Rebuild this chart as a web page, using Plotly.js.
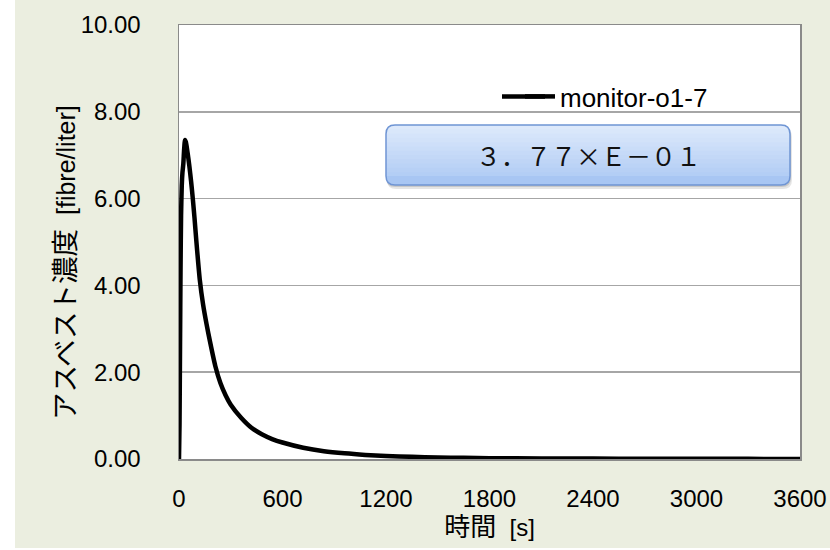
<!DOCTYPE html>
<html>
<head>
<meta charset="utf-8">
<script src="https://cdn.plot.ly/plotly-3.0.1.min.js"></script>
<style>
html,body{margin:0;padding:0;background:#ffffff;}
#chart{position:absolute;left:15px;top:0;width:815px;height:548px;}
</style>
</head>
<body>
<div id="chart"></div>
<script>
// time [s]
const timeSec = [0, 3, 6, 9, 12, 16, 20, 25, 30, 35, 40, 50, 60, 70, 80, 90, 100, 120, 140, 160, 180, 210, 240, 270, 300, 360, 420, 480, 540, 600, 720, 840, 960, 1080, 1200, 1350, 1500, 1650, 1800, 2100, 2400, 2700, 3000, 3300, 3600];
// concentration [fibre/liter]
const concentration = [0, 0.8, 2.6, 4.4, 5.6, 6.3, 6.6, 6.8, 7.15, 7.35, 7.3, 7.05, 6.75, 6.4, 6.0, 5.55, 5.05, 4.15, 3.55, 3.1, 2.7, 2.15, 1.75, 1.47, 1.25, 0.95, 0.72, 0.57, 0.46, 0.38, 0.26, 0.18, 0.13, 0.095, 0.07, 0.05, 0.035, 0.026, 0.02, 0.013, 0.009, 0.006, 0.004, 0.003, 0.002];
const seriesName = 'monitor-o1-7';
const xTicks = [0, 600, 1200, 1800, 2400, 3000, 3600];
const yTicks = [0, 2, 4, 6, 8, 10];
const boxLabel = '３．７７×Ｅ－０１';
const xTitleJa = '時間', xTitleUnit = '[s]';
const yTitleJa = 'アスベスト濃度', yTitleUnit = '[fibre/liter]';

const W = 815, H = 548;
const M = {l: 164, r: 30, t: 25, b: 89};
const PW = W - M.l - M.r, PH = H - M.t - M.b;
function px(x){ return (x - 15 - M.l) / PW; }
function py(y){ return (H - M.b - y) / PH; }

function roundRect(x0, y0, x1, y1, r, topOnly){
  const X = v => px(v).toFixed(5), Y = v => py(v).toFixed(5);
  let p = 'M' + X(x0 + r) + ',' + Y(y0) + ' L' + X(x1 - r) + ',' + Y(y0) +
    ' Q' + X(x1) + ',' + Y(y0) + ' ' + X(x1) + ',' + Y(y0 + r);
  if (topOnly) {
    p += ' L' + X(x1) + ',' + Y(y1) + ' L' + X(x0) + ',' + Y(y1);
  } else {
    p += ' L' + X(x1) + ',' + Y(y1 - r) + ' Q' + X(x1) + ',' + Y(y1) + ' ' + X(x1 - r) + ',' + Y(y1) +
      ' L' + X(x0 + r) + ',' + Y(y1) + ' Q' + X(x0) + ',' + Y(y1) + ' ' + X(x0) + ',' + Y(y1 - r);
  }
  p += ' L' + X(x0) + ',' + Y(y0 + r) + ' Q' + X(x0) + ',' + Y(y0) + ' ' + X(x0 + r) + ',' + Y(y0) + ' Z';
  return p;
}

const shapes = [];
const bx0 = 386, by0 = 125, bx1 = 790, by1 = 185, rad = 9;
shapes.push({type:'path', xref:'paper', yref:'paper', path: roundRect(bx0+1, by0+3, bx1+2, by1+4, rad), fillcolor:'rgba(0,0,0,0.10)', line:{width:0}});
shapes.push({type:'path', xref:'paper', yref:'paper', path: roundRect(bx0, by0+2, bx1+1, by1+2, rad), fillcolor:'rgba(0,0,0,0.12)', line:{width:0}});
shapes.push({type:'path', xref:'paper', yref:'paper', path: roundRect(bx0, by0, bx1, by1, rad), fillcolor:'#a8c6f3', line:{width:0}});
const gradTop = [221, 233, 251], gradBot = [168, 198, 243];
const nb = 14;
for (let i = nb - 1; i >= 0; i--) {
  const f = i / nb;
  const yEnd = by0 + (by1 - by0) * (i + 1) / nb;
  const c = gradTop.map((t, k) => Math.round(t + (gradBot[k] - t) * f));
  shapes.push({type:'path', xref:'paper', yref:'paper', path: roundRect(bx0, by0, bx1, Math.min(yEnd, by1 - rad), rad, true), fillcolor:'rgb(' + c.join(',') + ')', line:{width:0}});
}
shapes.push({type:'path', xref:'paper', yref:'paper', path: roundRect(bx0, by0, bx1, by1, rad), fillcolor:'rgba(0,0,0,0)', line:{color:'#6f95d4', width:1.5}});
// legend sample extension (the original legend line is longer)
shapes.push({type:'line', xref:'paper', yref:'paper', x0: px(502), x1: px(545), y0: py(96.5), y1: py(96.5), line:{color:'#000000', width:4.5}});

const trace = {
  x: timeSec, y: concentration, name: seriesName,
  type: 'scatter', mode: 'lines',
  line: {color: '#000000', width: 4.5, shape: 'spline', smoothing: 0.6}
};

const font = 'Liberation Sans, Arial, Noto Sans CJK JP, sans-serif';
const layout = {
  width: W, height: H,
  margin: M,
  paper_bgcolor: '#ebeee0',
  plot_bgcolor: '#ffffff',
  font: {family: font, color: '#000000', size: 24},
  showlegend: true,
  legend: {x: px(520), y: py(96.5), xanchor: 'left', yanchor: 'middle', bgcolor: 'rgba(0,0,0,0)', font: {size: 26, family: font}, itemwidth: 30},
  xaxis: {
    range: [0, 3600], tickvals: xTicks, ticktext: xTicks.map(String),
    showgrid: false, zeroline: false,
    showline: true, mirror: true, linecolor: '#8a8a8a', linewidth: 1.5,
    ticks: '', ticklabelstandoff: 18,
    tickfont: {size: 24, family: font},
    title: {text: '<span style="font-size:26px">' + xTitleJa + '</span>  ' + xTitleUnit, font: {size: 24, family: font}, standoff: 4}
  },
  yaxis: {
    range: [0, 10], tickvals: yTicks, ticktext: yTicks.map(v => v.toFixed(2)),
    showgrid: true, gridcolor: '#a6a6a6', gridwidth: 1.5,
    zeroline: false,
    showline: true, mirror: true, linecolor: '#8a8a8a', linewidth: 1.5,
    ticks: '', ticklabelstandoff: 32,
    tickfont: {size: 24, family: font},
    title: {text: ''}
  },
  shapes: shapes,
  annotations: [{
    xref: 'paper', yref: 'paper', x: px((bx0 + bx1) / 2), y: py((by0 + by1) / 2),
    xanchor: 'center', yanchor: 'middle', showarrow: false,
    text: boxLabel, font: {size: 25, family: 'Noto Sans CJK JP, sans-serif', color: '#111111'}
  }, {
    xref: 'paper', yref: 'paper', x: px(65), y: py(263),
    xanchor: 'center', yanchor: 'middle', showarrow: false, textangle: -90,
    text: '<span style="font-size:27.5px">' + yTitleJa + '</span>  ' + yTitleUnit,
    font: {size: 25, family: font, color: '#000000'}
  }]
};

Plotly.newPlot('chart', [trace], layout, {displayModeBar: false, staticPlot: true});
</script>
</body>
</html>
